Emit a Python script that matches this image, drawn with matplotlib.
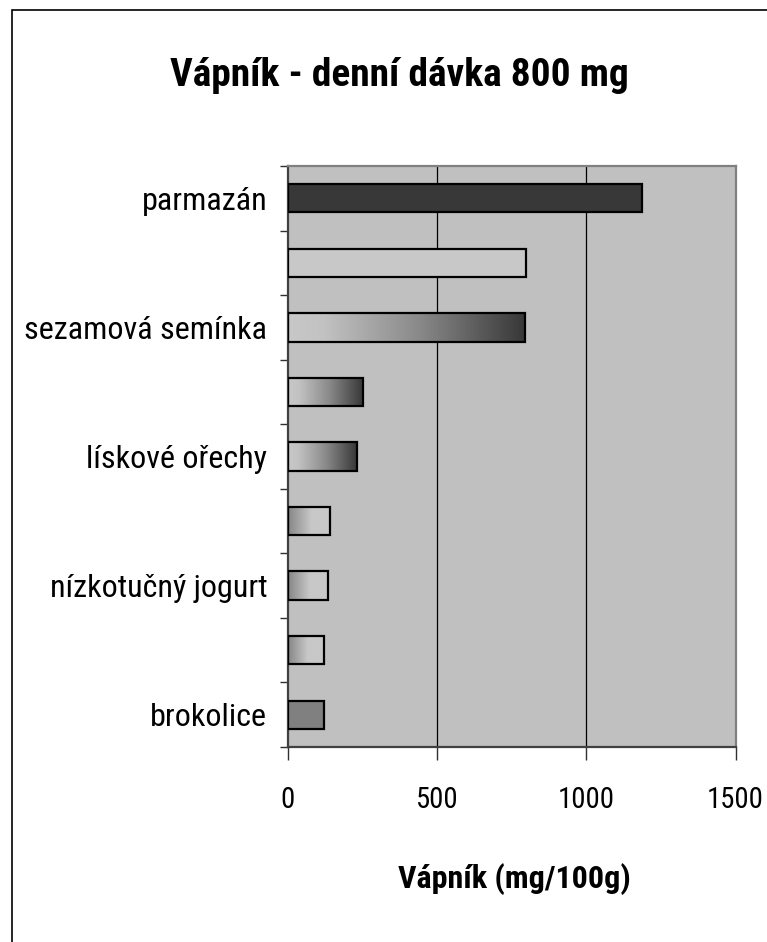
import os
import numpy as np
import matplotlib
matplotlib.use("Agg")
import matplotlib.pyplot as plt
from matplotlib.patches import Rectangle
from matplotlib.colors import LinearSegmentedColormap
from matplotlib import font_manager
from matplotlib.font_manager import FontProperties

# ---- data ----
labels = ["parmazán", "", "sezamová semínka", "", "lískové ořechy", "",
          "nízkotučný jogurt", "", "brokolice"]
values = [1188, 798, 793, 251, 230, 141, 134, 120, 120]
xticks = [0, 500, 1000, 1500]
title = "Vápník - denní dávka 800 mg"
xlabel = "Vápník (mg/100g)"

# ---- styles (per bar) ----
fills = ["solid_dark", "solid_light", "light_dark", "light_dark", "light_dark",
         "mid_light", "mid_light", "mid_light", "solid_mid"]


# ---- pick a narrow / condensed font if one is installed ----
def pick_font(bold):
    prefs = ["liberationsansnarrow", "arialnarrow", "notosans-condensed",
             "robotocondensed", "opensanscondensed", "opensans_condensed",
             "dejavusanscondensed"]
    best = None
    for f in font_manager.fontManager.ttflist:
        base = os.path.basename(f.fname).lower().replace(" ", "")
        if f.style != "normal":
            continue
        w = str(f.weight).lower()
        isbold = w in ("700", "bold")
        isreg = w in ("400", "normal", "regular", "book")
        if bold and not isbold:
            continue
        if not bold and not isreg:
            continue
        if "semi" in base or "extra" in base or "light" in base or "medium" in base:
            continue
        for i, p in enumerate(prefs):
            if base.startswith(p):
                if best is None or i < best[0]:
                    best = (i, f.fname)
                break
    if best is None:
        return FontProperties(family=["Liberation Sans", "DejaVu Sans"],
                              weight="bold" if bold else "normal")
    return FontProperties(fname=best[1])


fp_reg = pick_font(False)
fp_bold = pick_font(True)

W, H = 767, 942
fig = plt.figure(figsize=(W / 100, H / 100), dpi=100)
fig.patch.set_facecolor("white")

L, R, T, B = 288, 735.5, 166, 747
ax = fig.add_axes([L / W, 1 - B / H, (R - L) / W, (B - T) / H])
ax.set_facecolor("#c0c0c0")

n = len(values)
ypos = np.arange(n)
bars = ax.barh(ypos, values, height=0.44, color="none", edgecolor="black",
               linewidth=1.6, zorder=3)

cm_ld = LinearSegmentedColormap.from_list(
    "ld", [(0, "#c8c8c8"), (0.15, "#c2c2c2"), (0.55, "#8a8a8a"), (1, "#383838")])
cm_ml = LinearSegmentedColormap.from_list(
    "ml", [(0, "#868686"), (0.55, "#c8c8c8"), (1, "#c8c8c8")])
solid = {"solid_dark": "#383838", "solid_light": "#c8c8c8", "solid_mid": "#808080"}

grad = np.linspace(0, 1, 256).reshape(1, -1)
for bar, f in zip(bars, fills):
    x0, y0, w, h = bar.get_x(), bar.get_y(), bar.get_width(), bar.get_height()
    if f in solid:
        bar.set_facecolor(solid[f])
    else:
        cmap = cm_ld if f == "light_dark" else cm_ml
        im = ax.imshow(grad, cmap=cmap, aspect="auto",
                       extent=(x0, x0 + w, y0 + h, y0), zorder=2,
                       interpolation="bilinear")
        im.set_clip_path(bar)
ax.set_xlim(0, 1500)
ax.set_ylim(n - 0.5, -0.5)

for xv in xticks[1:-1]:
    ax.axvline(xv, color="black", linewidth=0.9, zorder=1)

# y ticks at category boundaries, labels at centres
ax.set_yticks(np.arange(-0.5, n, 1.0))
ax.set_yticklabels([])
ax.set_yticks(ypos, minor=True)
ax.set_yticklabels(labels, minor=True)
ax.tick_params(axis="y", which="major", length=6, width=1.0, color="#303030",
               direction="out")
ax.tick_params(axis="y", which="minor", length=0, pad=15)

ax.set_xticks(xticks)
ax.set_xticklabels([str(v) for v in xticks])
ax.tick_params(axis="x", length=9, width=1.0, color="#303030", pad=19)

for s in ["left", "bottom"]:
    ax.spines[s].set_color("#404040")
    ax.spines[s].set_linewidth(1.6)
for s in ["top", "right"]:
    ax.spines[s].set_color("#808080")
    ax.spines[s].set_linewidth(1.6)

ylabs = ax.get_yticklabels(minor=True)
xlabs = ax.get_xticklabels()
for t in ylabs + xlabs:
    t.set_fontproperties(fp_reg.copy())
    t.set_fontsize(24)

xl = ax.set_xlabel(xlabel)
xl.set_fontproperties(fp_bold.copy())
xl.set_fontsize(25)
if fp_bold.get_file() is None:
    xl.set_fontweight("bold")
ax.xaxis.set_label_coords((514 - L) / (R - L), (B - 879) / (B - T))
xl.set_va("center")

tt = fig.text(399 / W, 1 - 76 / H, title, ha="center", va="center")
tt.set_fontproperties(fp_bold.copy())
tt.set_fontsize(28)
if fp_bold.get_file() is None:
    tt.set_fontweight("bold")

# fit the text sizes to the widths seen in the reference
fig.canvas.draw()
rend = fig.canvas.get_renderer()


def fit(texts, probe, target):
    w = probe.get_window_extent(rend).width
    s = probe.get_fontsize() * target / w
    for t in texts:
        t.set_fontsize(s)


probe_y = [t for t in ylabs if t.get_text() == "sezamová semínka"][0]
fit(ylabs, probe_y, 244)
probe_x = [t for t in xlabs if t.get_text() == "1500"][0]
fit(xlabs, probe_x, 57)
fit([xl], xl, 232)
fit([tt], tt, 458)

# outer chart border
fig.add_artist(Rectangle((12 / W, -0.05), 1.2, 1 - 10 / H + 0.05,
                         transform=fig.transFigure, fill=False,
                         edgecolor="black", linewidth=1.2))

fig.savefig("out.png", dpi=100)
